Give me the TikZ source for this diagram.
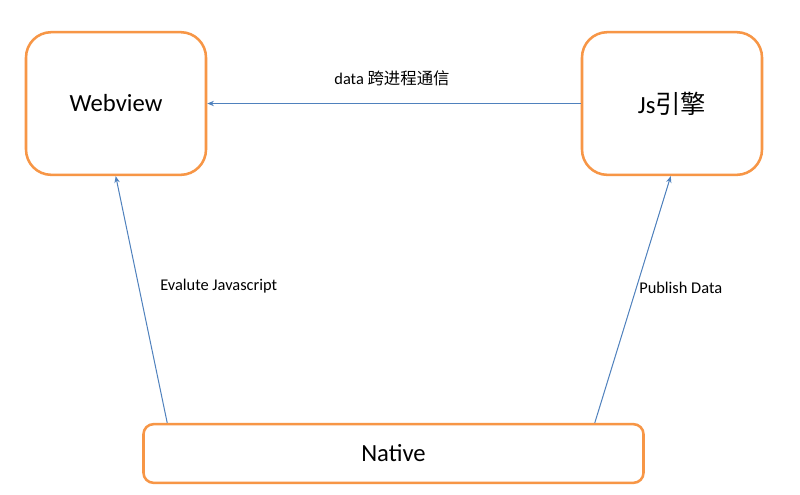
\documentclass[tikz,border=0pt]{standalone}
\usepackage{fontspec}
\setmainfont{Carlito}
\newfontfamily\cjk{Noto Sans CJK SC}
\usetikzlibrary{arrows.meta,calc}
\definecolor{boxorange}{HTML}{F79646}
\definecolor{lineblue}{HTML}{4F81BD}
\begin{document}
\begin{tikzpicture}[x=0.75pt,y=-0.75pt,
  bigbox/.style={draw=boxorange,line width=1.9pt,rounded corners=19pt,fill=white,
    minimum width=135pt,minimum height=107pt,inner sep=0pt,font=\fontsize{18.5}{22}\selectfont},
  widebox/.style={draw=boxorange,line width=1.9pt,rounded corners=7.5pt,fill=white,
    minimum width=375pt,minimum height=44pt,inner sep=0pt,font=\fontsize{18.5}{22}\selectfont},
  arr/.style={draw=lineblue,line width=0.75pt,-{Stealth[length=5pt,width=4pt]}},
  lbl/.style={font=\fontsize{12.3}{14}\selectfont,inner sep=0pt}]
\useasboundingbox[fill=white] (0,0) rectangle (800,494);
\node[bigbox] (web) at (116,103.5) {Webview};
\node[bigbox] (js) at (672,103.5) {Js{\cjk\fontsize{19}{22}\selectfont 引擎}};
\node[widebox] (native) at (393.5,453.5) {Native};
\draw[arr] (js.west) -- (web.east);
\draw[arr] ($(native.north west)+(25,0)$) -- ($(web.south west)+(91,0)$);
\draw[arr] ($(native.north east)+(-50,0)$) -- ($(js.south west)+(90,0)$);
\node[lbl] (l1) at (392,78) {data {\cjk 跨进程通信}};
\node[lbl,anchor=west] (l2) at (160,286) {Evalute Javascript};
\node[lbl,anchor=west] (l3) at (639,288) {Publish Data};
\end{tikzpicture}
\end{document}
